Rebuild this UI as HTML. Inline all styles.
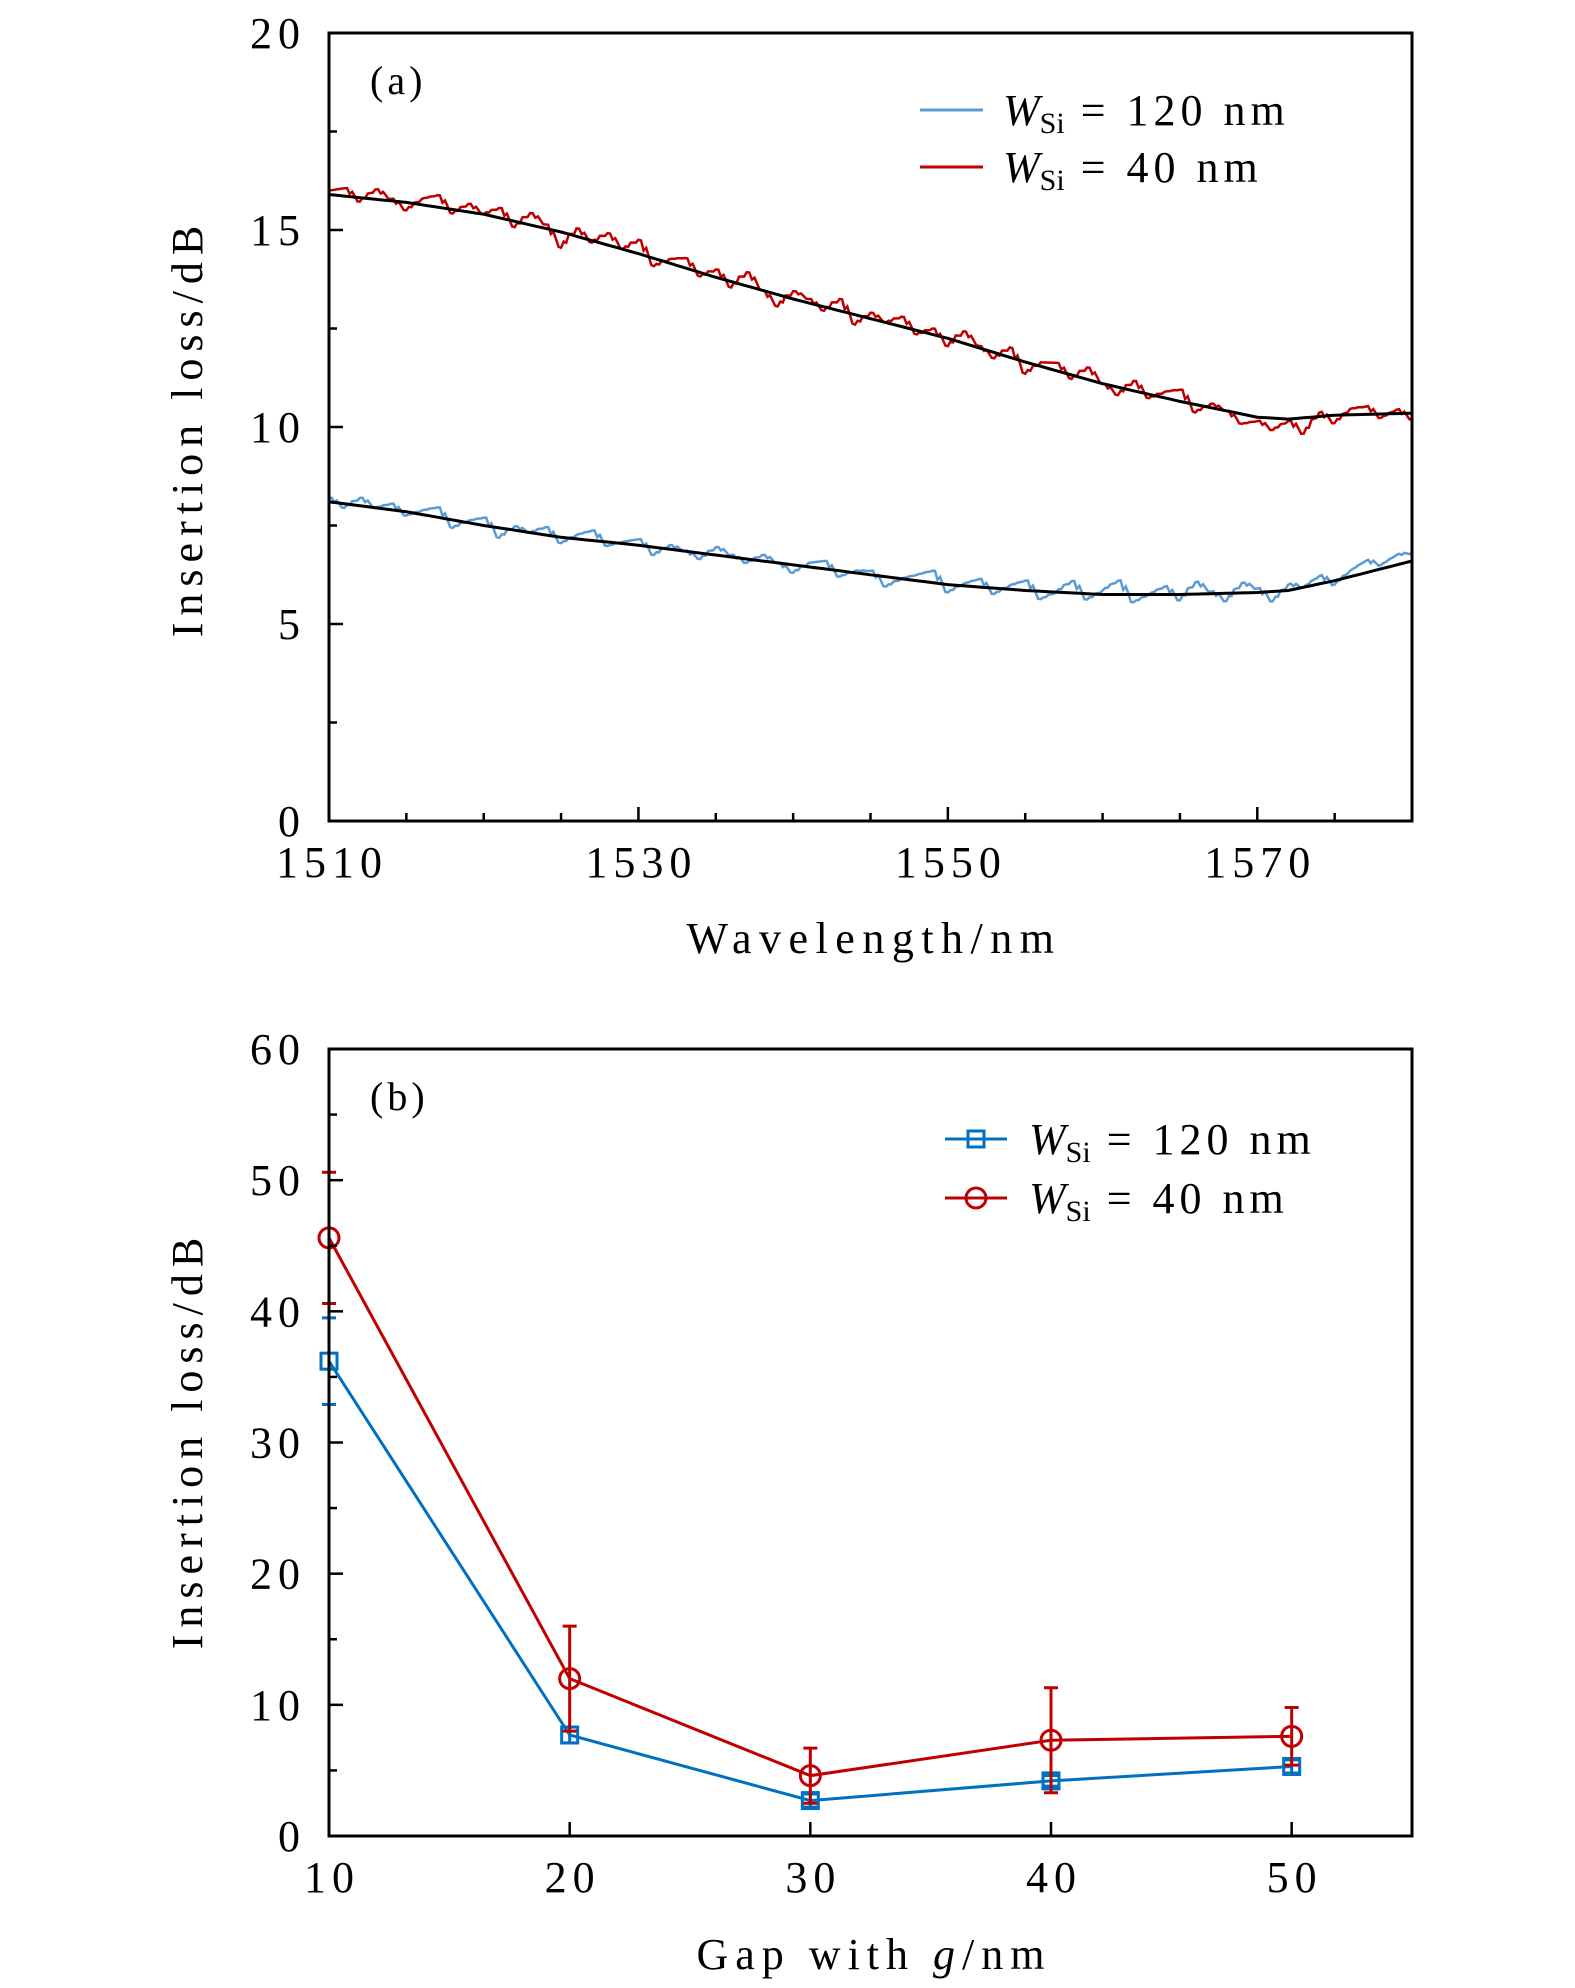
<!DOCTYPE html>
<html><head><meta charset="utf-8"><style>
body{margin:0;background:#fff;}
svg{display:block;font-family:"Liberation Serif","DejaVu Serif",serif;}
</style></head><body>
<svg id="fig" width="1575" height="1988" viewBox="0 0 1575 1988"></svg>
<script>
// ---------- Panel (a) data ----------
const fitWl = [1510,1515,1520,1525,1530,1535,1540,1545,1550,1555,1560,1565,1570,1572,1575,1580];
const redFit = [15.9,15.7,15.4,14.95,14.4,13.8,13.25,12.75,12.25,11.65,11.1,10.65,10.25,10.2,10.3,10.35];
const blueFit = [8.1,7.85,7.5,7.2,7.0,6.75,6.5,6.25,6.0,5.85,5.75,5.75,5.8,5.85,6.1,6.6];
const redNoise = [0.1,0.2,-0.1,0.25,0.05,-0.2,0.15,0.3,-0.1,0.2,0.0,0.25,-0.15,0.3,0.1,-0.4,0.2,-0.05,0.3,0.0,0.35,-0.2,0.1,0.25,-0.1,0.2,-0.15,0.35,0.0,-0.3,0.2,0.1,-0.1,0.3,-0.25,0.15,0.0,0.25,-0.1,0.15,-0.2,0.3,0.05,-0.15,0.25,-0.3,0.1,0.2,-0.1,0.3,0.0,-0.2,0.25,-0.1,0.15,0.3,-0.2,0.1,0.0,-0.25,-0.1,-0.3,-0.05,-0.4,0.1,-0.2,0.15,0.2,-0.1,0.1,-0.15];
const blueNoise = [0.1,-0.1,0.2,0.0,0.15,-0.1,0.1,0.25,-0.2,0.05,0.2,-0.25,0.1,0.0,0.2,-0.15,0.1,0.25,-0.1,0.05,0.15,-0.2,0.1,0.0,-0.15,0.2,0.05,-0.1,0.15,0.0,-0.2,0.1,0.2,-0.15,0.05,0.1,-0.25,0.0,0.15,0.3,-0.2,0.05,0.2,-0.15,0.1,0.25,-0.2,0.0,0.3,-0.15,0.1,0.35,-0.2,0.0,0.2,-0.15,0.3,0.05,-0.2,0.25,0.1,-0.25,0.15,0.0,0.2,-0.1,0.15,0.3,0.1,0.25,0.2];
const xTicksA = [1510,1530,1550,1570];
const yTicksA = [0,5,10,15,20];
// ---------- Panel (b) data ----------
const gaps = [10,20,30,40,50];
const blueVals = [36.2,7.7,2.7,4.2,5.3];
const blueErr = [3.3,0.6,0.5,0.4,0.5];
const redVals = [45.6,12.0,4.6,7.3,7.6];
const redErr = [5.0,4.0,2.1,4.0,2.2];
const xTicksB = [10,20,30,40,50];
const yTicksB = [0,10,20,30,40,50,60];

const NS="http://www.w3.org/2000/svg";
const svg=document.getElementById('fig');
function mk(tag,attrs,parent){const e=document.createElementNS(NS,tag);for(const k in attrs)e.setAttribute(k,attrs[k]);(parent||svg).appendChild(e);return e;}
function txt(s,x,y,size,anchor,parent,ls){const t=mk('text',{x:x,y:y,'font-size':size,'text-anchor':anchor||'middle',fill:'#000','letter-spacing':ls||0},parent);t.textContent=s;return t;}
function interp(xs,ys,x){for(let i=0;i<xs.length-1;i++){if(x<=xs[i+1]){const f=(x-xs[i])/(xs[i+1]-xs[i]);return ys[i]+f*(ys[i+1]-ys[i]);}}return ys[ys.length-1];}

const L=329,R=1412;
// ===== Panel A =====
const aT=33,aB=821;
const xa=v=>L+(v-1510)/(1580-1510)*(R-L);
const ya=v=>aB-(v-0)/20*(aB-aT);
const gA=mk('g',{});


const sub=[0,0.6,-0.3,0.8,0.2,-0.5];
function noisy(fit,noise,color,name){
  let d='';
  const n=noise.length;
  for(let i=0;i<=(n-1)*6;i++){
    const w=1510+i/6*(70/(n-1));
    const j=Math.floor(i/6),k=i%6;
    const a=noise[j],b=noise[Math.min(j+1,n-1)];
    const v=a+(b-a)*k/6+sub[k]*0.25*Math.abs(a-b+0.1);
    d+=(i?'L':'M')+xa(w).toFixed(1)+','+ya(interp(fitWl,fit,w)+v).toFixed(1);
  }
  const p=mk('path',{d:d,fill:'none',stroke:color,'stroke-width':2.5},gA);
  
  
}
function fitLine(fit,name){
  let d='';
  for(let w=1510;w<=1580;w+=0.5){d+=(w===1510?'M':'L')+xa(w).toFixed(1)+','+ya(interp(fitWl,fit,w)).toFixed(1);}
  const p=mk('path',{d:d,fill:'none',stroke:'#000','stroke-width':3},gA);
  
  
}
noisy(blueFit,blueNoise,'#5b9bd5','series-wsi-120nm');
noisy(redFit,redNoise,'#c00000','series-wsi-40nm');
fitLine(blueFit,'fit-wsi-120nm');
fitLine(redFit,'fit-wsi-40nm');
const fa=mk('rect',{x:L,y:aT,width:R-L,height:aB-aT,fill:'none',stroke:'#000','stroke-width':3},gA);


for(let w=1510;w<=1580;w+=5){const maj=(w-1510)%20===0;mk('line',{x1:xa(w),x2:xa(w),y1:aB,y2:aB-(maj?14:8),stroke:'#000','stroke-width':2.5},gA);}
for(let v=0;v<=20;v+=2.5){const maj=v%5===0;mk('line',{x1:L,x2:L+(maj?14:8),y1:ya(v),y2:ya(v),stroke:'#000','stroke-width':2.5},gA);}
xTicksA.forEach(v=>{const t=txt(String(v),xa(v)+3,877,44,'middle',gA,6);});
yTicksA.forEach(v=>{const t=txt(String(v),306,ya(v)+15,44,'end',gA,6);});
let t=txt('Wavelength/nm',874,953,44,'middle',gA,7.5);
t=txt('Insertion loss/dB',0,0,44,'middle',gA,7);t.setAttribute('transform','translate(202,428) rotate(-90)');
t=txt('(a)',370,94,40,'start',gA,4);
function legendText(x,y,num,parent){
  const tt=mk('text',{x:x,y:y,'font-size':44,fill:'#000',style:'white-space:pre'},parent);
  const a=mk('tspan',{'font-style':'italic'},tt);a.textContent='W';
  const b=mk('tspan',{'font-size':30,dy:8},tt);b.textContent='Si';
  const c=mk('tspan',{dy:-8,'letter-spacing':5},tt);c.textContent=' = '+num+' nm';
  return tt;
}
let le=mk('g',{},gA);
mk('line',{x1:920,x2:983,y1:110,y2:110,stroke:'#5b9bd5','stroke-width':3},le);legendText(1003,125,'120',le);
le=mk('g',{},gA);
mk('line',{x1:920,x2:983,y1:167,y2:167,stroke:'#c00000','stroke-width':3},le);legendText(1003,182,'40',le);

// ===== Panel B =====
const bT=1049,bB=1836;
const xb=v=>L+(v-10)/45*(R-L);
const yb=v=>bB-v/60*(bB-bT);
const gB=mk('g',{});


function series(vals,errs,color,marker,name){
  const g=mk('g',{},gB);
  
  
  let d='';
  gaps.forEach((gv,i)=>{d+=(i?'L':'M')+xb(gv)+','+yb(vals[i]);});
  mk('path',{d:d,fill:'none',stroke:color,'stroke-width':3},g);
  gaps.forEach((gv,i)=>{
    const x=xb(gv),y1=yb(vals[i]+errs[i]),y2=yb(vals[i]-errs[i]);
    const eb=mk('path',{d:`M${x},${y1}L${x},${y2}M${x-7},${y1}L${x+7},${y1}M${x-7},${y2}L${x+7},${y2}`,stroke:color,'stroke-width':3,fill:'none'},g);
    
    
    const y=yb(vals[i]);
    let m;
    if(marker==='sq')m=mk('rect',{x:x-8,y:y-8,width:16,height:16,fill:'none',stroke:color,'stroke-width':3},g);
    else m=mk('circle',{cx:x,cy:y,r:10,fill:'none',stroke:color,'stroke-width':3},g);
    
    
  });
}
series(blueVals,blueErr,'#0070c0','sq','series-b-wsi-120nm');
series(redVals,redErr,'#c00000','ci','series-b-wsi-40nm');
const fb=mk('rect',{x:L,y:bT,width:R-L,height:bB-bT,fill:'none',stroke:'#000','stroke-width':3},gB);


for(let v=10;v<=50;v+=10){mk('line',{x1:xb(v),x2:xb(v),y1:bB,y2:bB-14,stroke:'#000','stroke-width':2.5},gB);}
for(let v=0;v<=60;v+=5){const maj=v%10===0;mk('line',{x1:L,x2:L+(maj?14:8),y1:yb(v),y2:yb(v),stroke:'#000','stroke-width':2.5},gB);}
xTicksB.forEach(v=>{const t=txt(String(v),xb(v)+3,1892,44,'middle',gB,6);});
yTicksB.forEach(v=>{const t=txt(String(v),306,yb(v)+15,44,'end',gB,6);});
t=mk('text',{x:874,y:1969,'font-size':44,'text-anchor':'middle','letter-spacing':7,style:'white-space:pre'},gB);
let s1=mk('tspan',{},t);s1.textContent='Gap with ';
let s2=mk('tspan',{'font-style':'italic'},t);s2.textContent='g';
let s3=mk('tspan',{},t);s3.textContent='/nm';

t=txt('Insertion loss/dB',0,0,44,'middle',gB,7);t.setAttribute('transform','translate(202,1440) rotate(-90)');
t=txt('(b)',370,1110,40,'start',gB,4);
le=mk('g',{},gB);
mk('line',{x1:945,x2:1007,y1:1139,y2:1139,stroke:'#0070c0','stroke-width':3},le);
mk('rect',{x:968,y:1131,width:16,height:16,fill:'none',stroke:'#0070c0','stroke-width':3},le);
legendText(1029,1154,'120',le);
le=mk('g',{},gB);
mk('line',{x1:945,x2:1007,y1:1198,y2:1198,stroke:'#c00000','stroke-width':3},le);
mk('circle',{cx:976,cy:1198,r:10,fill:'none',stroke:'#c00000','stroke-width':3},le);
legendText(1029,1213,'40',le);
</script>
</body></html>
